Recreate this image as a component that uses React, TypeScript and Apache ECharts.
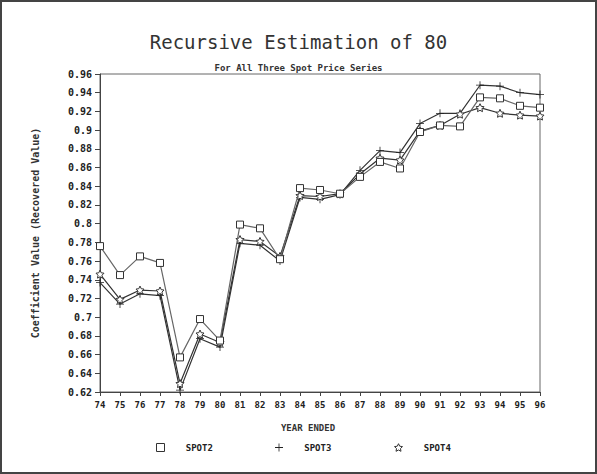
import React, { useEffect, useRef } from "react";
import * as echarts from "echarts";

const years = ["74","75","76","77","78","79","80","81","82","83","84","85","86","87","88","89","90","91","92","93","94","95","96"];
const spot2 = [0.776,0.745,0.765,0.758,0.657,0.698,0.675,0.799,0.795,0.762,0.838,0.836,0.832,0.850,0.866,0.859,0.898,0.905,0.904,0.935,0.934,0.926,0.924];
const spot3 = [0.737,0.714,0.725,0.723,0.622,0.677,0.668,0.779,0.777,0.760,0.828,0.826,0.831,0.857,0.878,0.876,0.907,0.918,0.918,0.948,0.947,0.940,0.938];
const spot4 = [0.746,0.719,0.729,0.728,0.629,0.682,0.673,0.783,0.781,0.765,0.830,0.829,0.832,0.853,0.870,0.868,0.899,0.905,0.917,0.924,0.918,0.916,0.915];
const seriesNames = ["SPOT2", "SPOT3", "SPOT4"];

const PLUS = "path://M-1,-10 L1,-10 L1,-1 L10,-1 L10,1 L1,1 L1,10 L-1,10 L-1,1 L-10,1 L-10,-1 L-1,-1 Z";
const STAR = "path://M0,-10 L2.9,-4 L9.5,-3.1 L4.7,1.5 L5.9,8.1 L0,5 L-5.9,8.1 L-4.7,1.5 L-9.5,-3.1 L-2.9,-4 Z";
const MONO = "DejaVu Sans Mono";

export default function App() {
  const ref = useRef<HTMLDivElement>(null);
  useEffect(() => {
    const chart = echarts.init(ref.current!, null, { renderer: "svg" });
    const symbols = ["rect", PLUS, STAR];
    const itemStyles = [
      { color: "#fff", borderColor: "#333", borderWidth: 1 },
      { color: "#222", borderColor: "#222", borderWidth: 0 },
      { color: "#fff", borderColor: "#333", borderWidth: 1 },
    ];
    const datasets = [spot2, spot3, spot4];
    const legendX = [151, 270, 389];
    chart.setOption({
      animation: false,
      backgroundColor: "#fff",
      title: [
        {
          text: "Recursive Estimation of 80",
          left: "center",
          top: 27,
          textStyle: { fontFamily: MONO, fontSize: 19, fontWeight: "normal", color: "#333" },
        },
        {
          text: "For All Three Spot Price Series",
          left: "center",
          top: 58,
          textStyle: { fontFamily: MONO, fontSize: 9, fontWeight: "bold", color: "#333" },
        },
      ],
      legend: seriesNames.map((n, i) => ({
        data: [n],
        left: legendX[i],
        top: 438,
        itemWidth: 8,
        itemHeight: 8,
        icon: symbols[i],
        itemStyle: itemStyles[i],
        formatter: (name: string) => "   " + name,
        textStyle: { fontFamily: MONO, fontSize: 9, fontWeight: "bold", color: "#222" },
      })),
      grid: {
        left: 100,
        right: 57,
        top: 74,
        bottom: 82,
        show: true,
        borderColor: "#666",
        borderWidth: 1,
      },
      xAxis: {
        type: "category",
        data: years,
        boundaryGap: false,
        axisLine: { lineStyle: { color: "#444", width: 1 } },
        axisTick: { show: true, length: 4, inside: false, lineStyle: { color: "#444" } },
        axisLabel: { fontFamily: MONO, fontSize: 9, fontWeight: "bold", color: "#222", margin: 8 },
        splitLine: { show: false },
      },
      yAxis: {
        type: "value",
        min: 0.62,
        max: 0.96,
        interval: 0.02,
        name: "Coefficient Value (Recovered Value)",
        nameLocation: "middle",
        nameGap: 60,
        nameRotate: 90,
        nameTextStyle: { fontFamily: MONO, fontSize: 10, fontWeight: "bold", color: "#333" },
        axisLine: { show: true, lineStyle: { color: "#444", width: 1 } },
        axisTick: { show: true, length: 5, lineStyle: { color: "#444" } },
        axisLabel: {
          fontFamily: MONO,
          fontSize: 10,
          fontWeight: "bold",
          color: "#222",
          margin: 8,
          formatter: (v: number) => String(parseFloat(v.toFixed(2))),
        },
        splitLine: { show: false },
      },
      graphic: [
        {
          type: "rect",
          shape: { x: 1, y: 1, width: 595, height: 472 },
          style: { fill: "none", stroke: "#444", lineWidth: 2 },
          silent: true,
        },
        {
          type: "text",
          x: 308,
          y: 428,
          style: {
            text: "YEAR ENDED",
            fontFamily: MONO,
            fontSize: 9,
            fontWeight: "bold",
            fill: "#333",
            align: "center",
            verticalAlign: "middle",
          },
        },
      ],
      series: seriesNames.map((n, i) => ({
        name: n,
        type: "line",
        data: datasets[i],
        symbol: symbols[i],
        symbolSize: i === 0 ? 7 : 8,
        showAllSymbol: true,
        z: i === 0 ? 3 : 2,
        itemStyle: itemStyles[i],
        lineStyle: { color: i === 0 ? "#666" : "#333", width: 1.2 },
      })),
    });
    return () => chart.dispose();
  }, []);
  return (
    <div
      ref={ref}
      style={{ position: "fixed", left: 0, top: 0, width: 597, height: 474 }}
    />
  );
}
